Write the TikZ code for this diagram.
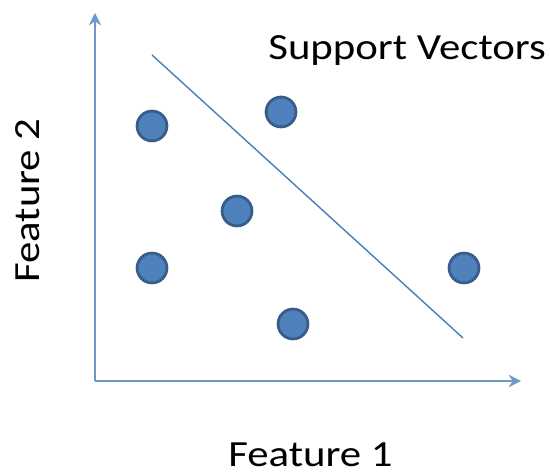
\documentclass[tikz,border=0pt]{standalone}
\usepackage{fontspec}
\setmainfont{Carlito}[FakeStretch=1.16]
\usetikzlibrary{arrows.meta}
\definecolor{axisblue}{HTML}{4A7EBB}
\definecolor{dotfill}{HTML}{4F81BD}
\definecolor{dotedge}{HTML}{385D8A}
\tikzset{
  axisline/.style={draw=axisblue!80, line width=1.3pt, -{Stealth[length=7pt,width=7pt]}},
  sepline/.style={draw=axisblue, line width=0.8pt},
  dot/.style={circle, fill=dotfill, draw=dotedge, line width=1.6pt, minimum size=17pt, inner sep=0pt},
  lbl/.style={font=\fontsize{21}{25}\selectfont, text=black, inner sep=0pt}
}
\begin{document}
\begin{tikzpicture}[x=0.02cm,y=-0.02cm]
\useasboundingbox (0,0) rectangle (550,475);
\coordinate (O) at (95,381);
\coordinate (Ytip) at (95,13);
\coordinate (Xtip) at (521,381);
\draw[axisline] (O) -- (Ytip);
\draw[axisline] (O) -- (Xtip);
\coordinate (L1) at (152,55);
\coordinate (L2) at (463,338);
\draw[sepline] (L1) -- (L2);
\node[dot] (d1) at (152,126) {};
\node[dot] (d2) at (281,112) {};
\node[dot] (d3) at (237,211) {};
\node[dot] (d4) at (152,268) {};
\node[dot] (d5) at (293,324) {};
\node[dot] (d6) at (464,268) {};
\node[lbl, anchor=base west] (sv) at (268,60) {Support Vectors};
\node[lbl, anchor=base west] (f1) at (228,466) {Feature 1};
\node[lbl, rotate=90, anchor=base west] (f2) at (39,283) {Feature 2};
\end{tikzpicture}
\end{document}
